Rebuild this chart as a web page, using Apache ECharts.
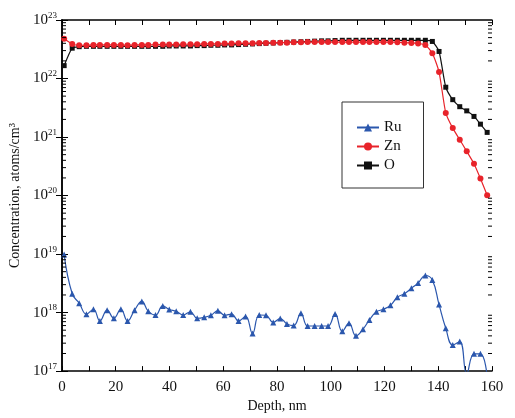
<!DOCTYPE html>
<html lang="en">
<head>
    <meta charset="UTF-8">
    <title>Depth profile</title>
    <style>
        body{ margin:0; background:#fff; }
        #main{ width:515px; height:418px; }
    </style>
</head>
<body>
    <div id="main"></div>
    <script src="https://cdn.jsdelivr.net/npm/echarts@6/dist/echarts.min.js"></script>
    <script type="text/javascript">
        // depth of each sputter step, nm
        var depth = [0.8, 3.8, 6.4, 9.1, 11.7, 14.1, 16.8, 19.3, 21.9, 24.4,
            27.0, 29.7, 32.1, 34.8, 37.5, 39.9, 42.5, 45.1, 47.8, 50.3,
            52.9, 55.4, 58.0, 60.5, 63.1, 65.7, 68.3, 70.9, 73.4, 75.9,
            78.6, 81.2, 83.7, 86.2, 88.9, 91.4, 94.0, 96.6, 99.0, 101.6,
            104.3, 106.8, 109.4, 112.0, 114.4, 117.0, 119.6, 122.2, 124.8, 127.4,
            130.0, 132.5, 135.2, 137.8, 140.3, 142.8, 145.4, 148.0, 150.6, 153.3,
            155.7, 158.2];

        var ru = [9.8e18, 2.1e18, 1.45e18, 9.4e17, 1.14e18, 7.2e17, 1.1e18, 8.0e17, 1.14e18, 7.2e17,
            1.1e18, 1.55e18, 1.05e18, 9.1e17, 1.3e18, 1.13e18, 1.05e18, 9.1e17, 1.03e18, 8.0e17,
            8.3e17, 9.0e17, 1.07e18, 9.0e17, 9.4e17, 7.2e17, 8.6e17, 4.4e17, 9.1e17, 9.0e17,
            6.8e17, 7.9e17, 6.4e17, 6.0e17, 9.7e17, 5.9e17, 5.9e17, 5.9e17, 5.9e17, 9.5e17,
            4.8e17, 6.6e17, 4.0e17, 5.2e17, 7.5e17, 1.03e18, 1.14e18, 1.33e18, 1.83e18, 2.1e18,
            2.6e18, 3.2e18, 4.3e18, 3.6e18, 1.37e18, 5.4e17, 2.8e17, 3.2e17, 9.0e16, 1.97e17,
            1.97e17, 8.0e16];

        var zn = [4.8e22, 3.9e22, 3.7e22, 3.7e22, 3.75e22, 3.75e22, 3.75e22, 3.75e22, 3.75e22, 3.7e22,
            3.75e22, 3.75e22, 3.75e22, 3.8e22, 3.8e22, 3.8e22, 3.8e22, 3.85e22, 3.85e22, 3.85e22,
            3.9e22, 3.9e22, 3.9e22, 3.95e22, 3.95e22, 4.0e22, 4.0e22, 4.0e22, 4.05e22, 4.05e22,
            4.1e22, 4.1e22, 4.1e22, 4.15e22, 4.15e22, 4.2e22, 4.2e22, 4.2e22, 4.2e22, 4.2e22,
            4.2e22, 4.2e22, 4.2e22, 4.2e22, 4.2e22, 4.2e22, 4.2e22, 4.2e22, 4.15e22, 4.1e22,
            4.05e22, 3.95e22, 3.75e22, 2.7e22, 1.29e22, 2.57e21, 1.42e21, 9.0e20, 5.7e20, 3.5e20,
            1.95e20, 1.01e20];

        var ox = [1.66e22, 3.3e22, 3.5e22, 3.55e22, 3.55e22, 3.55e22, 3.55e22, 3.55e22, 3.55e22, 3.55e22,
            3.55e22, 3.55e22, 3.55e22, 3.55e22, 3.55e22, 3.6e22, 3.6e22, 3.6e22, 3.6e22, 3.65e22,
            3.65e22, 3.7e22, 3.7e22, 3.75e22, 3.75e22, 3.8e22, 3.85e22, 3.9e22, 3.95e22, 4.0e22,
            4.05e22, 4.1e22, 4.15e22, 4.2e22, 4.25e22, 4.3e22, 4.35e22, 4.4e22, 4.4e22, 4.45e22,
            4.5e22, 4.5e22, 4.5e22, 4.5e22, 4.5e22, 4.5e22, 4.5e22, 4.5e22, 4.5e22, 4.5e22,
            4.5e22, 4.5e22, 4.5e22, 4.3e22, 2.9e22, 7.1e21, 4.35e21, 3.3e21, 2.8e21, 2.25e21,
            1.66e21, 1.2e21];

        // log minor tick positions (2..9 in every decade)
        var minorTicks = [];
        for (var e = 17; e < 23; e++) {
            for (var m = 2; m <= 9; m++) {
                minorTicks.push([0, m * Math.pow(10, e)]);
            }
        }

        function pairs(ys) {
            return depth.map(function (d, i) { return [d, ys[i]]; });
        }

        var serif = '"Liberation Serif", "DejaVu Serif", serif';

        var myChart = echarts.init(document.getElementById('main'));

        var option = {
            backgroundColor: '#fff',
            animation: false,
            grid: { left: 60, right: 23, top: 20, bottom: 46 },
            legend: {
                data: ['Ru', 'Zn', 'O'],
                orient: 'vertical',
                left: 342,
                top: 102,
                padding: [18, 22, 15, 14],
                itemGap: 4,
                itemWidth: 22,
                itemHeight: 10,
                borderColor: '#333',
                borderWidth: 1,
                backgroundColor: '#fff',
                textStyle: { fontFamily: serif, fontSize: 15, color: '#111' }
            },
            xAxis: [{
                type: 'value',
                min: 0, max: 160, interval: 20,
                name: 'Depth, nm',
                nameLocation: 'middle',
                nameGap: 26,
                nameTextStyle: { fontFamily: serif, fontSize: 14, color: '#111' },
                axisLine: { lineStyle: { color: '#000', width: 1.5 } },
                axisTick: { inside: true, length: 5, lineStyle: { color: '#000' } },
                minorTick: { show: true, splitNumber: 2, length: 5, lineStyle: { color: '#000' } },
                axisLabel: { margin: 8, fontFamily: serif, fontSize: 15, color: '#111' },
                splitLine: { show: false }
            }, {
                type: 'value',
                position: 'top',
                min: 0, max: 160, interval: 20,
                axisLine: { lineStyle: { color: '#000', width: 1.5 } },
                axisTick: { inside: true, length: 5, lineStyle: { color: '#000' } },
                minorTick: { show: true, splitNumber: 2, length: 5, lineStyle: { color: '#000' } },
                axisLabel: { show: false },
                splitLine: { show: false }
            }],
            yAxis: [{
                type: 'log',
                logBase: 10,
                min: 1e17, max: 1e23,
                splitNumber: 6,
                name: 'Concentration, atoms/cm\u00b3',
                nameLocation: 'middle',
                nameGap: 40,
                nameTextStyle: { fontFamily: serif, fontSize: 14, color: '#111' },
                axisLine: { lineStyle: { color: '#000', width: 1.5 } },
                axisTick: { inside: true, length: 6, lineStyle: { color: '#000' } },
                axisLabel: {
                    margin: 5,
                    formatter: function (v) {
                        var p = Math.round(Math.log10(v));
                        return '{b|10}{s|' + p + '}';
                    },
                    rich: {
                        b: { fontFamily: serif, fontSize: 15, color: '#111' },
                        s: { fontFamily: serif, fontSize: 9, color: '#111', padding: [0, 0, 9, 0] }
                    }
                },
                splitLine: { show: false }
            }, {
                type: 'log',
                logBase: 10,
                position: 'right',
                min: 1e17, max: 1e23,
                splitNumber: 6,
                axisLine: { lineStyle: { color: '#000', width: 1.5 } },
                axisTick: { inside: true, length: 6, lineStyle: { color: '#000' } },
                axisLabel: { show: false },
                splitLine: { show: false }
            }],
            series: [{
                name: 'Ru',
                type: 'line',
                smooth: 0.45,
                symbol: 'triangle',
                symbolSize: 6,
                color: '#2b57ad',
                lineStyle: { width: 1.2 },
                data: pairs(ru),
                z: 3
            }, {
                name: 'Zn',
                type: 'line',
                smooth: 0.2,
                symbol: 'circle',
                symbolSize: 6,
                color: '#e8232a',
                lineStyle: { width: 1.2 },
                data: pairs(zn),
                z: 4
            }, {
                name: 'O',
                type: 'line',
                smooth: 0.2,
                symbol: 'rect',
                symbolSize: 5,
                color: '#111',
                lineStyle: { width: 1.2 },
                data: pairs(ox),
                z: 3
            }, {
                // minor log ticks on left and right frame
                type: 'custom',
                silent: true,
                clip: false,
                z: 10,
                renderItem: function (params, api) {
                    var v = api.value(1);
                    var pl = api.coord([0, v]);
                    var pr = api.coord([160, v]);
                    return {
                        type: 'group',
                        children: [{
                            type: 'line',
                            shape: { x1: pl[0], y1: pl[1], x2: pl[0] + 4, y2: pl[1] },
                            style: { stroke: '#000', lineWidth: 1 }
                        }, {
                            type: 'line',
                            shape: { x1: pr[0], y1: pr[1], x2: pr[0] - 4, y2: pr[1] },
                            style: { stroke: '#000', lineWidth: 1 }
                        }]
                    };
                },
                data: minorTicks
            }]
        };

        myChart.setOption(option);
    </script>
</body>
</html>
